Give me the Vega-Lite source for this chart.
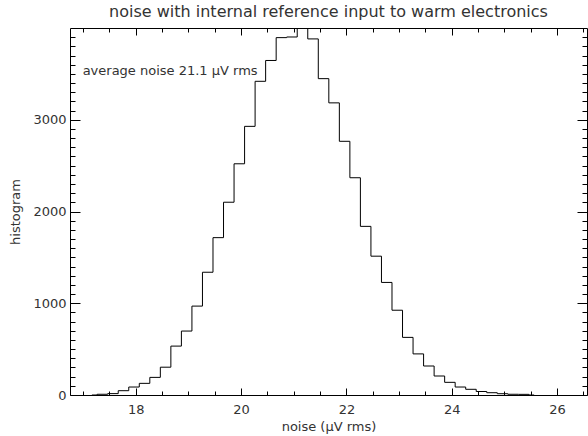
{
  "$schema": "https://vega.github.io/schema/vega-lite/v6.json",
  "width": 517,
  "height": 367,
  "autosize": {"type": "none"},
  "padding": {"left": 70, "top": 28, "right": 1, "bottom": 41},
  "background": "white",
  "title": {"text": "noise with internal reference input to warm electronics", "anchor": "middle", "font": "DejaVu Sans", "fontSize": 16, "fontWeight": "normal", "color": "#333", "baseline": "alphabetic", "offset": 8, "dy": 13},
  "config": {"view": {"stroke": null}},
  "data": {"values": [
    {"noise": 17.166, "count": 0},
    {"noise": 17.366, "count": 8},
    {"noise": 17.566, "count": 15},
    {"noise": 17.766, "count": 47},
    {"noise": 17.966, "count": 87},
    {"noise": 18.166, "count": 127},
    {"noise": 18.366, "count": 192},
    {"noise": 18.566, "count": 303},
    {"noise": 18.766, "count": 533},
    {"noise": 18.966, "count": 697},
    {"noise": 19.166, "count": 969},
    {"noise": 19.366, "count": 1338},
    {"noise": 19.566, "count": 1715},
    {"noise": 19.766, "count": 2101},
    {"noise": 19.966, "count": 2520},
    {"noise": 20.166, "count": 2928},
    {"noise": 20.366, "count": 3419},
    {"noise": 20.566, "count": 3646},
    {"noise": 20.766, "count": 3895},
    {"noise": 20.966, "count": 3902},
    {"noise": 21.166, "count": 4150},
    {"noise": 21.366, "count": 3881},
    {"noise": 21.566, "count": 3448},
    {"noise": 21.766, "count": 3184},
    {"noise": 21.966, "count": 2765},
    {"noise": 22.166, "count": 2368},
    {"noise": 22.366, "count": 1838},
    {"noise": 22.566, "count": 1513},
    {"noise": 22.766, "count": 1227},
    {"noise": 22.966, "count": 924},
    {"noise": 23.166, "count": 628},
    {"noise": 23.366, "count": 448},
    {"noise": 23.566, "count": 316},
    {"noise": 23.766, "count": 207},
    {"noise": 23.966, "count": 138},
    {"noise": 24.166, "count": 87},
    {"noise": 24.366, "count": 62},
    {"noise": 24.566, "count": 38},
    {"noise": 24.766, "count": 25},
    {"noise": 24.966, "count": 14},
    {"noise": 25.166, "count": 8},
    {"noise": 25.366, "count": 7},
    {"noise": 25.566, "count": 0}
  ]},
  "resolve": {"axis": {"x": "independent", "y": "independent"}},
  "layer": [
    {
      "mark": {"type": "line", "interpolate": "step", "color": "#000", "strokeWidth": 1, "clip": true},
      "encoding": {
        "x": {"field": "noise", "type": "quantitative", "scale": {"domain": [16.75, 26.57], "nice": false, "zero": false},
          "axis": {"orient": "bottom", "values": [18, 20, 22, 24, 26], "ticks": false, "domain": true, "domainColor": "#000", "grid": false, "format": "d", "labelFont": "DejaVu Sans", "labelFontSize": 13, "labelColor": "#333", "labelPadding": 8, "title": "noise (μV rms)", "titleFont": "DejaVu Sans", "titleFontSize": 13, "titleFontWeight": "normal", "titleColor": "#333", "titlePadding": 4}},
        "y": {"field": "count", "type": "quantitative", "scale": {"domain": [0, 4000], "nice": false, "zero": true},
          "axis": {"orient": "left", "values": [0, 1000, 2000, 3000], "ticks": false, "domain": true, "domainColor": "#000", "grid": false, "format": "d", "labelFont": "DejaVu Sans", "labelFontSize": 13, "labelColor": "#333", "labelPadding": 4, "title": "histogram", "titleFont": "DejaVu Sans", "titleFontSize": 13, "titleFontWeight": "normal", "titleColor": "#333", "titlePadding": 10}}
      }
    },
    {
      "mark": {"type": "line", "interpolate": "step", "strokeOpacity": 0, "clip": true},
      "encoding": {
        "x": {"field": "noise", "type": "quantitative", "scale": {"domain": [16.75, 26.57], "nice": false, "zero": false},
          "axis": {"orient": "bottom", "values": [17, 17.5, 18, 18.5, 19, 19.5, 20, 20.5, 21, 21.5, 22, 22.5, 23, 23.5, 24, 24.5, 25, 25.5, 26, 26.5], "tickSize": -4, "tickColor": "#000", "labels": false, "domain": false, "grid": false, "title": null}},
        "y": {"field": "count", "type": "quantitative", "scale": {"domain": [0, 4000], "nice": false, "zero": true},
          "axis": {"orient": "left", "values": [100, 200, 300, 400, 500, 600, 700, 800, 900, 1100, 1200, 1300, 1400, 1500, 1600, 1700, 1800, 1900, 2100, 2200, 2300, 2400, 2500, 2600, 2700, 2800, 2900, 3100, 3200, 3300, 3400, 3500, 3600, 3700, 3800, 3900], "tickSize": -5, "tickColor": "#000", "labels": false, "domain": false, "grid": false, "title": null}}
      }
    },
    {
      "mark": {"type": "line", "interpolate": "step", "strokeOpacity": 0, "clip": true},
      "encoding": {
        "x": {"field": "noise", "type": "quantitative", "scale": {"domain": [16.75, 26.57], "nice": false, "zero": false},
          "axis": {"orient": "bottom", "values": [18, 20, 22, 24, 26], "tickSize": -7, "tickColor": "#000", "labels": false, "domain": false, "grid": false, "title": null}},
        "y": {"field": "count", "type": "quantitative", "scale": {"domain": [0, 4000], "nice": false, "zero": true},
          "axis": {"orient": "left", "values": [0, 1000, 2000, 3000], "tickSize": -10, "tickColor": "#000", "labels": false, "domain": false, "grid": false, "title": null}}
      }
    },
    {
      "mark": {"type": "line", "interpolate": "step", "strokeOpacity": 0, "clip": true},
      "encoding": {
        "x": {"field": "noise", "type": "quantitative", "scale": {"domain": [16.75, 26.57], "nice": false, "zero": false},
          "axis": {"orient": "top", "values": [17, 17.5, 18, 18.5, 19, 19.5, 20, 20.5, 21, 21.5, 22, 22.5, 23, 23.5, 24, 24.5, 25, 25.5, 26, 26.5], "tickSize": -4, "tickColor": "#000", "labels": false, "domain": true, "domainColor": "#000", "grid": false, "title": null}},
        "y": {"field": "count", "type": "quantitative", "scale": {"domain": [0, 4000], "nice": false, "zero": true},
          "axis": {"orient": "right", "values": [100, 200, 300, 400, 500, 600, 700, 800, 900, 1100, 1200, 1300, 1400, 1500, 1600, 1700, 1800, 1900, 2100, 2200, 2300, 2400, 2500, 2600, 2700, 2800, 2900, 3100, 3200, 3300, 3400, 3500, 3600, 3700, 3800, 3900], "tickSize": -5, "tickColor": "#000", "labels": false, "domain": true, "domainColor": "#000", "grid": false, "title": null}}
      }
    },
    {
      "mark": {"type": "line", "interpolate": "step", "strokeOpacity": 0, "clip": true},
      "encoding": {
        "x": {"field": "noise", "type": "quantitative", "scale": {"domain": [16.75, 26.57], "nice": false, "zero": false},
          "axis": {"orient": "top", "values": [18, 20, 22, 24, 26], "tickSize": -7, "tickColor": "#000", "labels": false, "domain": false, "grid": false, "title": null}},
        "y": {"field": "count", "type": "quantitative", "scale": {"domain": [0, 4000], "nice": false, "zero": true},
          "axis": {"orient": "right", "values": [0, 1000, 2000, 3000], "tickSize": -10, "tickColor": "#000", "labels": false, "domain": false, "grid": false, "title": null}}
      }
    },
    {
      "data": {"values": [{"label": "average noise 21.1 μV rms"}]},
      "mark": {"type": "text", "align": "left", "baseline": "middle", "font": "DejaVu Sans", "fontSize": 13, "color": "#333"},
      "encoding": {
        "x": {"datum": 16.99, "type": "quantitative", "axis": null},
        "y": {"datum": 3530, "type": "quantitative", "axis": null},
        "text": {"field": "label"}
      }
    }
  ]
}
